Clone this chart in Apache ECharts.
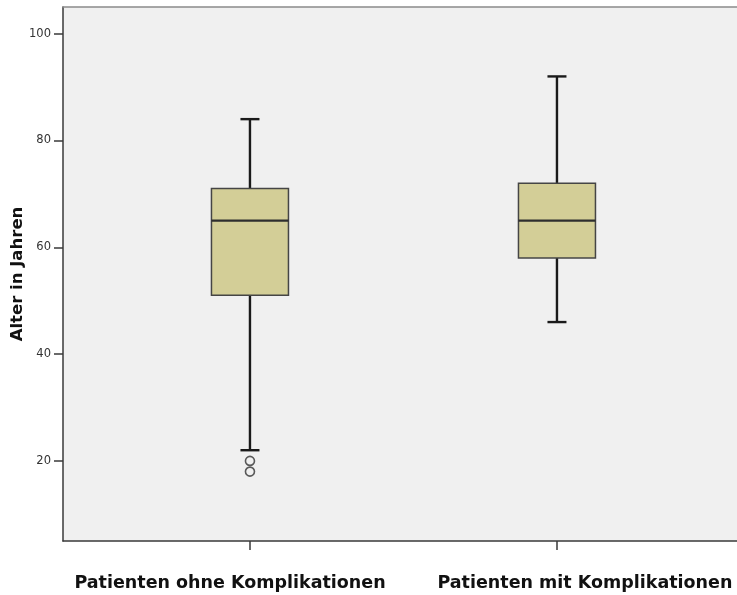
<!DOCTYPE html>
<html>
<head>
<meta charset="utf-8">
<script src="https://cdn.jsdelivr.net/npm/echarts@6/dist/echarts.min.js"></script>
<style>
html,body{margin:0;padding:0;background:#fff;}
#c{width:737px;height:595px;}
</style>
</head>
<body>
<div id="c"></div>
<script>
const categories = ['Patienten ohne Komplikationen', 'Patienten mit Komplikationen'];
const whiskerLow = [22, 46];
const q1 = [51, 58];
const median = [65, 65];
const q3 = [71, 72];
const whiskerHigh = [84, 92];
const outliers = [[1, 20], [1, 18]];
const yTicks = [20, 40, 60, 80, 100];

const boxData = categories.map((c, i) => [i + 1, whiskerLow[i], q1[i], median[i], q3[i], whiskerHigh[i]]);

const BOX_W = 77, CAP_W = 19;
function renderItem(params, api) {
  const x = api.value(0);
  const pLo = api.coord([x, api.value(1)]);
  const pQ1 = api.coord([x, api.value(2)]);
  const pMed = api.coord([x, api.value(3)]);
  const pQ3 = api.coord([x, api.value(4)]);
  const pHi = api.coord([x, api.value(5)]);
  const cx = pMed[0];
  const wStyle = {stroke: '#1a1a1a', lineWidth: 2.4};
  return {
    type: 'group',
    children: [
      {type: 'line', shape: {x1: cx, y1: pHi[1], x2: cx, y2: pQ3[1]}, style: wStyle},
      {type: 'line', shape: {x1: cx, y1: pQ1[1], x2: cx, y2: pLo[1]}, style: wStyle},
      {type: 'line', shape: {x1: cx - CAP_W / 2, y1: pHi[1], x2: cx + CAP_W / 2, y2: pHi[1]}, style: wStyle},
      {type: 'line', shape: {x1: cx - CAP_W / 2, y1: pLo[1], x2: cx + CAP_W / 2, y2: pLo[1]}, style: wStyle},
      {type: 'rect', shape: {x: cx - BOX_W / 2, y: pQ3[1], width: BOX_W, height: pQ1[1] - pQ3[1]},
        style: {fill: '#d3ce97', stroke: '#454545', lineWidth: 1.5}},
      {type: 'line', shape: {x1: cx - BOX_W / 2, y1: pMed[1], x2: cx + BOX_W / 2, y2: pMed[1]},
        style: {stroke: '#2e2e2e', lineWidth: 2.2}}
    ]
  };
}

const xMin = 0.391;
const GRID_W = 674;
const chart = echarts.init(document.getElementById('c'), null, {renderer: 'canvas'});
chart.setOption({
  animation: false,
  backgroundColor: '#ffffff',
  grid: {left: 63, top: 7, width: GRID_W, height: 534, outerBoundsMode: 'none', containLabel: false,
    show: true, backgroundColor: '#f0f0f0', borderWidth: 0},
  xAxis: [{
    type: 'value', min: xMin, max: xMin + GRID_W / 307,
    splitLine: {show: false},
    axisLine: {show: true, onZero: false, lineStyle: {color: '#3a3a3a', width: 1.5}},
    axisTick: {show: true, customValues: [1, 2], length: 9, lineStyle: {color: '#3a3a3a', width: 1.5}},
    axisLabel: {
      customValues: [0.935, 2.091],
      margin: 33,
      formatter: v => categories[Math.round(v) - 1],
      fontFamily: 'DejaVu Sans', fontWeight: 'bold', fontSize: 17.5, color: '#111'
    }
  }, {
    type: 'value', position: 'top', min: xMin, max: xMin + GRID_W / 307,
    splitLine: {show: false}, axisTick: {show: false}, axisLabel: {show: false},
    axisLine: {show: true, onZero: false, lineStyle: {color: '#8a8a8a', width: 1.5}}
  }],
  yAxis: {
    type: 'value', min: 5, max: 105,
    name: 'Alter in Jahren', nameLocation: 'middle', nameRotate: 90, nameGap: 37, nameMoveOverlap: false,
    nameTextStyle: {fontFamily: 'DejaVu Sans', fontWeight: 'bold', fontSize: 16.5, color: '#111'},
    splitLine: {show: false},
    axisLine: {show: true, onZero: false, lineStyle: {color: '#3a3a3a', width: 1.5}},
    axisTick: {show: true, customValues: yTicks, length: 9, lineStyle: {color: '#3a3a3a', width: 1.5}},
    axisLabel: {customValues: yTicks, margin: 12, fontFamily: 'DejaVu Sans', fontSize: 11.5, color: '#333'}
  },
  series: [
    {type: 'custom', renderItem: renderItem, data: boxData, encode: {x: 0, y: [1, 2, 3, 4, 5]}, clip: false},
    {type: 'scatter', data: outliers, symbol: 'circle', symbolSize: 9,
      itemStyle: {color: 'rgba(0,0,0,0)', borderColor: '#333', borderWidth: 1.6}}
  ]
});
</script>
</body>
</html>
